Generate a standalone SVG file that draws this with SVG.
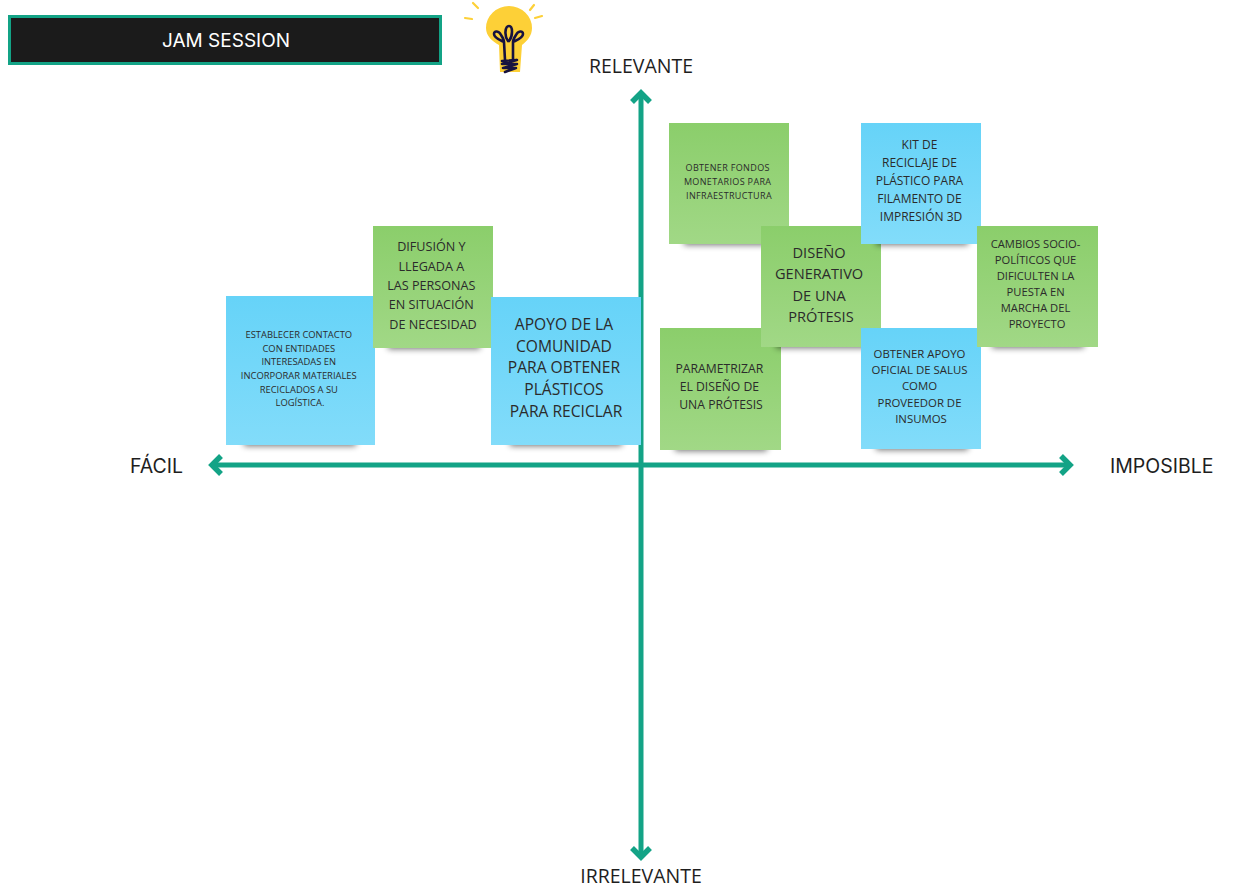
<svg xmlns="http://www.w3.org/2000/svg" width="1235" height="894" viewBox="0 0 1235 894">
<defs>
  <linearGradient id="gBlue" x1="0" y1="0" x2="0" y2="1">
    <stop offset="0" stop-color="#66d3f8"/>
    <stop offset="1" stop-color="#82dcfa"/>
  </linearGradient>
  <linearGradient id="gGreen" x1="0" y1="0" x2="0" y2="1">
    <stop offset="0" stop-color="#8bce6b"/>
    <stop offset="1" stop-color="#a1d886"/>
  </linearGradient>
  <filter id="blur" x="-20%" y="-100%" width="140%" height="300%">
    <feGaussianBlur stdDeviation="3"/>
  </filter>
</defs>
<style>
  .blue { fill: url(#gBlue); }
  .green { fill: url(#gGreen); }
  .shadow { fill: #000; opacity: 0.55; filter: url(#blur); }
  .note { font-family: "Open Sans", "Noto Sans", sans-serif; fill: #2b2b2b; text-anchor: middle; }
  .axis { fill: none; stroke: #13a386; stroke-width: 5; }
  .head { fill: none; stroke: #13a386; stroke-width: 5.5; stroke-linejoin: miter; stroke-linecap: butt; }
  .lab { font-family: "Open Sans", "Noto Sans", sans-serif; font-size: 19.5px; fill: #1e1e1e; }
  .lab2 { font-family: "Inter", "Liberation Sans", sans-serif; font-size: 19.5px; fill: #1e1e1e; }
  .fil { fill: none; stroke: #17123f; stroke-width: 2.6; stroke-linecap: round; stroke-linejoin: round; }
  .ray { fill: none; stroke: #fdd037; stroke-width: 2.2; stroke-linecap: round; }
</style>
<rect width="1235" height="894" fill="#ffffff"/>

<g id="title">
  <rect x="9.5" y="16.5" width="431" height="47" fill="#1b1b1b" stroke="#13a386" stroke-width="3"/>
  <text x="226" y="47" font-family="Inter, 'Liberation Sans', sans-serif" font-size="19" fill="#ffffff" text-anchor="middle">JAM SESSION</text>
</g>

<g id="bulb">
  <line class="ray" x1="473" y1="3" x2="478" y2="8"/>
  <line class="ray" x1="465" y1="18" x2="472" y2="19"/>
  <line class="ray" x1="530" y1="10" x2="534" y2="5"/>
  <line class="ray" x1="535" y1="18" x2="542" y2="16"/>
  <path d="M486,28 a23,22 0 1 1 46,0 c0,8 -5,13 -10,17 l-2,27 h-20 l-1,-27 c-7,-4 -13,-9 -13,-17 z" fill="#fdd037"/>
  <path class="fil" d="M505,60 L504,42 C500,40 494,38 494,34 C494,30 499,31 501,35 C503,38 504,41 504,42"/>
  <path class="fil" d="M513,60 L513,42 C517,40 523,38 523,34 C523,30 518,31 516,35 C514,38 513,41 513,42"/>
  <path class="fil" d="M508,41 C504,36 505,26 509,26 C513,26 513,36 509,41"/>
  <path class="fil" d="M502,61 L517,60 L502,64 L517,64 L503,68 L516,68 L505,72"/>
</g>

<g id="connectors">
  <line class="axis" x1="641" y1="96" x2="641" y2="854"/>
  <line class="axis" x1="214" y1="465" x2="1068" y2="465"/>
  <polyline class="head" points="632,102 641,93 650,102"/>
  <polyline class="head" points="632,848 641,857 650,848"/>
  <polyline class="head" points="221,456 212,465 221,474"/>
  <polyline class="head" points="1061,456 1070,465 1061,474"/>
</g>

<g id="labels">
  <text class="lab" x="641" y="73" text-anchor="middle">RELEVANTE</text>
  <text class="lab" x="641" y="883" text-anchor="middle">IRRELEVANTE</text>
  <text class="lab2" x="130" y="473">FÁCIL</text>
  <text class="lab2" x="1110" y="473">IMPOSIBLE</text>
</g>

<g id="note-establecer">
  <rect class="shadow" x="244" y="436" width="112" height="10"/>
  <rect class="blue" x="226" y="296" width="149" height="149"/>
  <text class="note" font-size="9.4">
    <tspan x="300" y="338">ESTABLECER CONTACTO</tspan>
    <tspan x="300" y="352">CON ENTIDADES</tspan>
    <tspan x="300" y="365">INTERESADAS EN</tspan>
    <tspan x="300" y="379">INCORPORAR MATERIALES</tspan>
    <tspan x="300" y="393">RECICLADOS A SU</tspan>
    <tspan x="300" y="406">LOGÍSTICA.</tspan>
  </text>
</g>

<g id="note-difusion">
  <rect class="shadow" x="388" y="339" width="92" height="10"/>
  <rect class="green" x="373" y="226" width="120" height="122"/>
  <text class="note" font-size="12.6">
    <tspan x="433" y="251">DIFUSIÓN Y</tspan>
    <tspan x="433" y="271">LLEGADA A</tspan>
    <tspan x="433" y="290">LAS PERSONAS</tspan>
    <tspan x="433" y="309">EN SITUACIÓN</tspan>
    <tspan x="433" y="329">DE NECESIDAD</tspan>
  </text>
</g>

<g id="note-apoyo">
  <rect class="shadow" x="510" y="436" width="112" height="10"/>
  <rect class="blue" x="491" y="297" width="150" height="148"/>
  <text class="note" font-size="15.6">
    <tspan x="566" y="330">APOYO DE LA</tspan>
    <tspan x="566" y="352">COMUNIDAD</tspan>
    <tspan x="566" y="373">PARA OBTENER</tspan>
    <tspan x="566" y="395">PLÁSTICOS</tspan>
    <tspan x="566" y="417">PARA RECICLAR</tspan>
  </text>
</g>

<g id="note-parametrizar">
  <rect class="shadow" x="675" y="441" width="92" height="10"/>
  <rect class="green" x="660" y="328" width="121" height="122"/>
  <text class="note" font-size="12.2">
    <tspan x="721" y="373">PARAMETRIZAR</tspan>
    <tspan x="721" y="391">EL DISEÑO DE</tspan>
    <tspan x="721" y="409">UNA PRÓTESIS</tspan>
  </text>
</g>

<g id="note-fondos">
  <rect class="shadow" x="684" y="235" width="92" height="10"/>
  <rect class="green" x="669" y="123" width="120" height="121"/>
  <text class="note" font-size="9" letter-spacing="0.35">
    <tspan x="729" y="171">OBTENER FONDOS</tspan>
    <tspan x="729" y="185">MONETARIOS PARA</tspan>
    <tspan x="729" y="199">INFRAESTRUCTURA</tspan>
  </text>
</g>

<g id="note-diseno">
  <rect class="shadow" x="776" y="338" width="92" height="10"/>
  <rect class="green" x="761" y="226" width="120" height="121"/>
  <text class="note" font-size="14.6">
    <tspan x="821" y="258">DISEÑO</tspan>
    <tspan x="821" y="279">GENERATIVO</tspan>
    <tspan x="821" y="301">DE UNA</tspan>
    <tspan x="821" y="322">PRÓTESIS</tspan>
  </text>
</g>

<g id="note-kit">
  <rect class="shadow" x="876" y="235" width="92" height="10"/>
  <rect class="blue" x="861" y="123" width="120" height="121"/>
  <text class="note" font-size="12">
    <tspan x="921" y="149">KIT DE</tspan>
    <tspan x="921" y="167">RECICLAJE DE</tspan>
    <tspan x="921" y="185">PLÁSTICO PARA</tspan>
    <tspan x="921" y="203">FILAMENTO DE</tspan>
    <tspan x="921" y="221">IMPRESIÓN 3D</tspan>
  </text>
</g>

<g id="note-salus">
  <rect class="shadow" x="876" y="440" width="92" height="10"/>
  <rect class="blue" x="861" y="328" width="120" height="121"/>
  <text class="note" font-size="11.4">
    <tspan x="921" y="358">OBTENER APOYO</tspan>
    <tspan x="921" y="374">OFICIAL DE SALUS</tspan>
    <tspan x="921" y="390">COMO</tspan>
    <tspan x="921" y="407">PROVEEDOR DE</tspan>
    <tspan x="921" y="423">INSUMOS</tspan>
  </text>
</g>

<g id="note-cambios">
  <rect class="shadow" x="992" y="338" width="92" height="10"/>
  <rect class="green" x="977" y="226" width="121" height="121"/>
  <text class="note" font-size="11.2">
    <tspan x="1037" y="248">CAMBIOS SOCIO-</tspan>
    <tspan x="1037" y="264">POLÍTICOS QUE</tspan>
    <tspan x="1037" y="280">DIFICULTEN LA</tspan>
    <tspan x="1037" y="296">PUESTA EN</tspan>
    <tspan x="1037" y="312">MARCHA DEL</tspan>
    <tspan x="1037" y="328">PROYECTO</tspan>
  </text>
</g>
</svg>
